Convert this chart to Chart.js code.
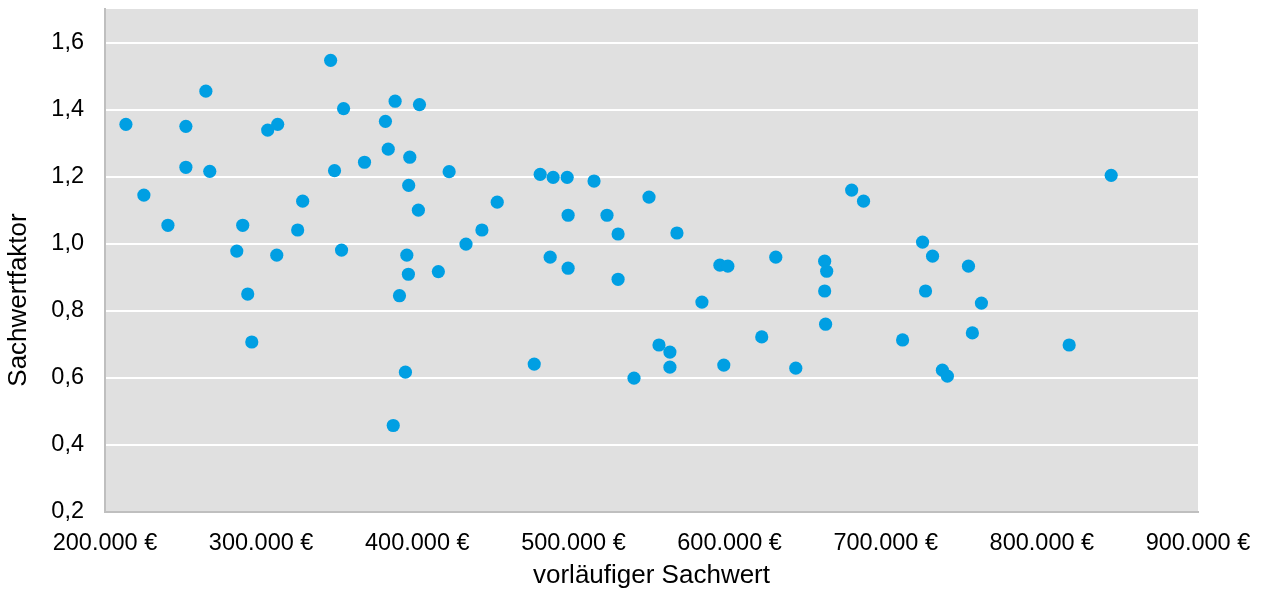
<!DOCTYPE html>
<html>
<head>
<meta charset="utf-8">
<script src="https://cdn.jsdelivr.net/npm/chart.js@4"></script>
<style>
	html, body { margin: 0; padding: 0; background: #fff; }
	#wrap { width: 1263px; height: 595px; }
</style>
</head>
<body>
<div id="wrap"><canvas id="sachwertChart" width="1263" height="595"></canvas></div>
<script>
// vorläufiger Sachwert (EUR)
var sachwert = [
	213400, 224900, 240300, 251800, 251800, 264600, 267100, 284400, 288200, 291400,
	294000, 304200, 310600, 310000, 323400, 326600, 344500, 347000, 351500, 352800,
	366200, 379600, 381400, 385800, 384600, 388600, 392400, 393300, 394300, 394500,
	395200, 400700, 401400, 413500, 420400, 431200, 441400, 451200, 474900, 478700,
	485100, 487000, 496000, 496600, 496600, 513200, 521500, 528600, 528600, 538800,
	548400, 554800, 561800, 561800, 566300, 582300, 593800, 598900, 596300, 620600,
	629600, 642400, 660900, 662200, 660900, 661500, 678200, 685800, 710800, 723600,
	725500, 730000, 736300, 739500, 753000, 755500, 761300, 817500, 844400
];
// Sachwertfaktor
var faktor = [
	1.356, 1.145, 1.055, 1.350, 1.228, 1.455, 1.216, 0.978, 1.055, 0.850,
	0.707, 1.339, 1.356, 0.966, 1.041, 1.127, 1.547, 1.218, 0.981, 1.403,
	1.243, 1.365, 1.282, 1.425, 0.458, 0.845, 0.617, 0.966, 0.909, 1.174,
	1.258, 1.100, 1.415, 0.917, 1.215, 0.999, 1.041, 1.124, 0.641, 1.207,
	0.960, 1.198, 1.198, 1.085, 0.927, 1.187, 1.085, 1.029, 0.894, 0.599,
	1.139, 0.698, 0.677, 0.632, 1.032, 0.826, 0.936, 0.933, 0.638, 0.722,
	0.960, 0.629, 0.948, 0.918, 0.859, 0.760, 1.160, 1.127, 0.713, 1.005,
	0.859, 0.963, 0.623, 0.605, 0.933, 0.734, 0.823, 0.698, 1.204
];
var xTicks = [200000, 300000, 400000, 500000, 600000, 700000, 800000, 900000];
var yTicks = [0.2, 0.4, 0.6, 0.8, 1.0, 1.2, 1.4, 1.6];
var yTitle = 'Sachwertfaktor';

var points = sachwert.map(function (x, i) { return { x: x, y: faktor[i] }; });

function euro(v) {
	return String(Math.round(v)).replace(/\B(?=(\d{3})+(?!\d))/g, '.') + ' €';
}

var fontFamily = '"Liberation Sans", Arial, sans-serif';

// grey plot area behind the grid
var plotBg = {
	id: 'plotBg',
	beforeDraw: function (chart) {
		var a = chart.chartArea, ctx = chart.ctx;
		ctx.save();
		ctx.fillStyle = '#e0e0e0';
		ctx.fillRect(a.left, a.top, a.right - a.left, a.bottom - a.top);
		ctx.restore();
	}
};

// y title sits a bit below the middle of the plot in the original
var yTitlePlugin = {
	id: 'yTitle',
	afterDraw: function (chart) {
		var ctx = chart.ctx;
		ctx.save();
		ctx.translate(19, 300);
		ctx.rotate(-Math.PI / 2);
		ctx.font = '26px ' + fontFamily;
		ctx.fillStyle = '#000';
		ctx.textAlign = 'center';
		ctx.textBaseline = 'middle';
		ctx.fillText(yTitle, 0, 0);
		ctx.restore();
	}
};

Chart.defaults.font.family = fontFamily;
Chart.defaults.color = '#000';

new Chart(document.getElementById('sachwertChart').getContext('2d'), {
	type: 'scatter',
	data: {
		datasets: [{
			label: yTitle,
			data: points,
			backgroundColor: '#009fe3',
			borderWidth: 0,
			pointRadius: 6.6,
			pointHoverRadius: 6.6
		}]
	},
	options: {
		responsive: false,
		animation: false,
		devicePixelRatio: 1,
		layout: { padding: { top: 9, right: 65, left: 0, bottom: 0 } },
		plugins: {
			legend: { display: false },
			tooltip: { enabled: false }
		},
		scales: {
			x: {
				type: 'linear',
				min: xTicks[0],
				max: xTicks[xTicks.length - 1],
				afterFit: function (s) {
					s.height = 83;
					s.paddingLeft = 0;
					s.paddingRight = 0;
				},
				afterBuildTicks: function (s) { s.ticks = xTicks.map(function (v) { return { value: v }; }); },
				grid: { display: false, drawTicks: false },
				border: { display: true, color: '#bfbfbf', width: 2 },
				ticks: {
					padding: 17,
					maxRotation: 0,
					font: { size: 23.5 },
					callback: function (v) { return euro(v); }
				},
				title: {
					display: true,
					text: 'vorläufiger Sachwert',
					font: { size: 26 },
					padding: { top: 0, bottom: 4 }
				}
			},
			y: {
				type: 'linear',
				min: 0.2,
				max: 1.7,
				afterFit: function (s) {
					s.width = 105;
					s.paddingTop = 0;
					s.paddingBottom = 0;
				},
				afterBuildTicks: function (s) { s.ticks = yTicks.map(function (v) { return { value: v }; }); },
				grid: { color: '#ffffff', lineWidth: 2, drawTicks: false },
				border: { display: true, color: '#bfbfbf', width: 2 },
				ticks: {
					padding: 21,
					font: { size: 23.5 },
					callback: function (v) { return v.toFixed(1).replace('.', ','); }
				},
				title: { display: false }
			}
		}
	},
	plugins: [plotBg, yTitlePlugin]
});
</script>
</body>
</html>
